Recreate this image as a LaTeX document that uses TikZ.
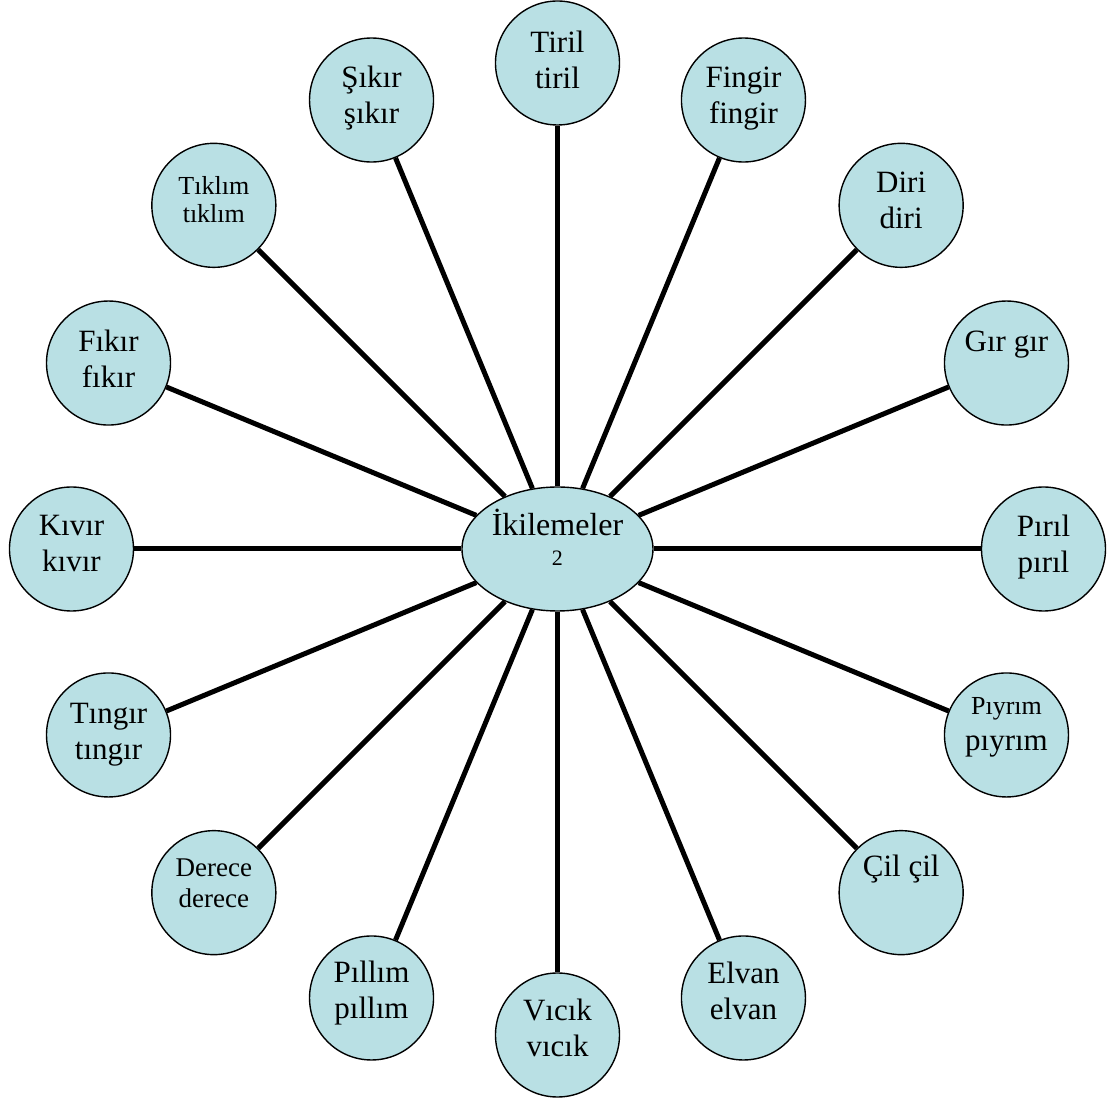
\documentclass[tikz,border=0pt]{standalone}
\usepackage{fontspec}
\setmainfont{Liberation Serif}
\usetikzlibrary{shapes.geometric}
\definecolor{bubfill}{HTML}{B9E0E4}
\newcommand\bigf{\fontsize{31}{36}\selectfont}
\newcommand\midf{\fontsize{27}{31}\selectfont}
\newcommand\smallf{\fontsize{26}{28}\selectfont}
\tikzset{
  bubble/.style={circle,draw,line width=1.4pt,fill=bubfill,minimum size=124pt,inner sep=0pt},
  word/.style={align=center,inner sep=0pt},
  spoke/.style={line width=5pt}
}
\begin{document}
\begin{tikzpicture}[x=1pt,y=1pt]
\useasboundingbox (-557.5,-550) rectangle (559.5,549);
% centre
\node (hub) [ellipse,draw,line width=1.4pt,fill=bubfill,minimum width=191pt,minimum height=124pt] {};
\node (hubtxt) at (hub) [word,font=\fontsize{32}{30}\selectfont,yshift=7] {\strut İkilemeler\\\strut{\fontsize{22}{24}\selectfont 2}};
% words round the centre
\foreach \a/\n/\l/\m/\f/\dy in {
  90/tiril/Tiril/tiril/\bigf/0, 67.5/fingir/Fingir/fingir/\bigf/2,
  45/diri/Diri/diri/\bigf/2.5, 22.5/gir/Gır gır//\bigf/1,
  0/piril/Pırıl/pırıl/\bigf/1.5, -22.5/piyrim/{{\fontsize{26}{36}\selectfont Pıyrım}}/pıyrım/\bigf/10,
  -45/cil/Çil çil//\bigf/5, -67.5/elvan/Elvan/elvan/\bigf/4,
  -90/vicik/Vıcık/vıcık/\bigf/4, -112.5/pillim/Pıllım/pıllım/\bigf/4.5,
  -135/derece/Derece/derece/\midf/6.7, -157.5/tingir/Tıngır/tıngır/\bigf/1,
  180/kivir/Kıvır/kıvır/\bigf/2.5, 157.5/fikir/Fıkır/fıkır/\bigf/1,
  135/tiklim/Tıklım/tıklım/\smallf/2, 112.5/sikir/Şıkır/şıkır/\bigf/1.5}
{
  \node (\n) at (\a:486) [bubble] {};
  \node (\n-t) at (\n) [word,font=\f,yshift=\dy] {\strut\l\\\strut\m};
  \draw[spoke] (hub) -- (\n);
}
\end{tikzpicture}
\end{document}
